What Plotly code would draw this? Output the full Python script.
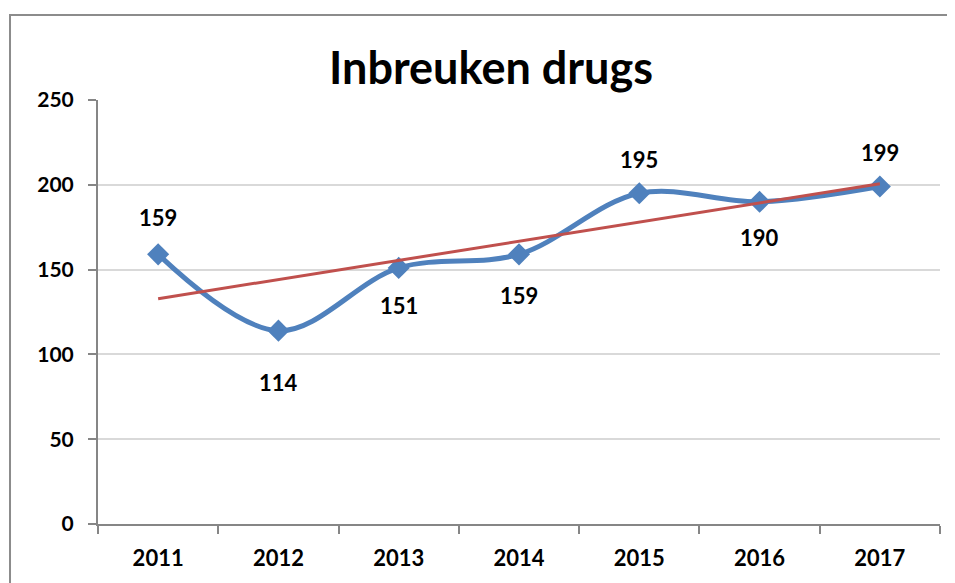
import plotly.graph_objects as go
import numpy as np

years = ["2011", "2012", "2013", "2014", "2015", "2016", "2017"]
values = [159, 114, 151, 159, 195, 190, 199]
y_ticks = [0, 50, 100, 150, 200, 250]

# label placement (pixel offset of label centre from its point; + = above)
label_shift = [37, -52, -38, -41, 34, -36, 34]

xi = np.arange(len(values))
slope, intercept = np.polyfit(xi, values, 1)
trend = [intercept, intercept + slope * (len(values) - 1)]

FONT = "Lato"
OFF = 8  # page body margin

fig = go.Figure()
fig.add_trace(go.Scatter(
    x=years, y=values, mode="lines+markers",
    line=dict(color="#4F81BD", width=5, shape="spline", smoothing=1.0),
    marker=dict(symbol="diamond", size=17, color="#4F81BD"),
    showlegend=False, hoverinfo="x+y"))
fig.add_trace(go.Scatter(
    x=[years[0], years[-1]], y=trend, mode="lines",
    line=dict(color="#C0504D", width=3), showlegend=False, hoverinfo="skip"))

for i, (v, s) in enumerate(zip(values, label_shift)):
    fig.add_annotation(x=i, y=v, xref="x", yref="y", text=str(v),
                       showarrow=False, yshift=s, xanchor="center",
                       yanchor="middle",
                       font=dict(family=FONT, size=22, color="black",
                                 weight="bold"))

fig.add_shape(type="rect", xref="paper", yref="paper",
              x0=-0.1045, y0=-0.3, x1=1.2, y1=1.2005,
              line=dict(color="#8c8c8c", width=2), layer="below")

fig.update_layout(
    width=955, height=583,
    margin=dict(l=98 - OFF, r=15 + OFF, t=100 - OFF, b=59 + OFF),
    paper_bgcolor="white", plot_bgcolor="white",
    title=dict(text="Inbreuken drugs", x=(491 - OFF) / 955, xref="container",
               xanchor="center", y=1 - (68 - OFF) / 583, yref="container",
               yanchor="middle",
               font=dict(family=FONT, size=45, color="black", weight="bold")),
    font=dict(family=FONT, color="black"),
)
fig.update_xaxes(type="category", range=[-0.5, 6.5], showgrid=False,
                 showline=True, linecolor="#868686", linewidth=2,
                 ticks="outside", tickson="boundaries", ticklen=8, tickwidth=2,
                 tickcolor="#868686", ticklabelstandoff=14,
                 tickfont=dict(family=FONT, size=22, color="black", weight="bold"))
fig.update_yaxes(range=[0, 250], tickvals=y_ticks, showgrid=True,
                 gridcolor="#d9d9d9", gridwidth=1.5, zeroline=False,
                 showline=True, linecolor="#868686", linewidth=2,
                 ticks="outside", ticklen=8, tickwidth=2, tickcolor="#868686",
                 ticklabelstandoff=10,
                 tickfont=dict(family=FONT, size=21, color="black", weight="bold"))

fig.write_html("out.html")
